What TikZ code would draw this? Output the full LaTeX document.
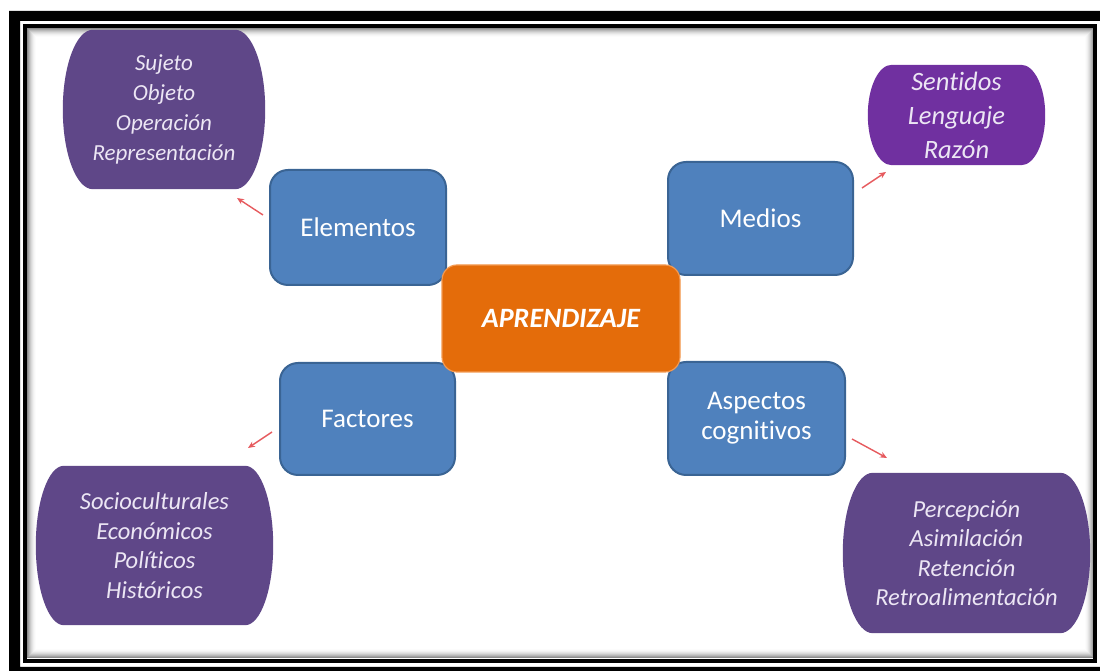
\documentclass[tikz,border=0pt]{standalone}
\usepackage{fontspec}
\setmainfont[Ligatures=NoCommon]{Carlito}
\usetikzlibrary{arrows.meta,calc,backgrounds}

\definecolor{boxblue}{HTML}{4F81BD}
\definecolor{boxedge}{HTML}{3A6494}
\definecolor{coreorange}{HTML}{E46C0A}
\definecolor{coreedge}{HTML}{F39A52}
\definecolor{plum}{HTML}{5F4788}
\definecolor{brightviolet}{HTML}{7030A0}
\definecolor{lilac}{HTML}{ECE6F4}
\definecolor{arrowred}{HTML}{E65A5E}

% Filled outline with elliptical corners around a node (#1 node, #2 x radius, #3 y radius, #4 colour)
\newcommand\cloudfill[4]{%
  \fill[#4] ([xshift=#2]#1.north west) -- ([xshift=-#2]#1.north east)
    arc[start angle=90,end angle=0,x radius=#2,y radius=#3]
    -- ([yshift=#3]#1.south east)
    arc[start angle=0,end angle=-90,x radius=#2,y radius=#3]
    -- ([xshift=#2]#1.south west)
    arc[start angle=270,end angle=180,x radius=#2,y radius=#3]
    -- ([yshift=-#3]#1.north west)
    arc[start angle=180,end angle=90,x radius=#2,y radius=#3] -- cycle;}

\tikzset{
  topic/.style={draw=boxedge, line width=2pt, fill=boxblue, rounded corners=18pt,
    text=white, align=center, inner sep=0pt, font=\fontsize{27}{30}\selectfont},
  core/.style={draw=coreedge, line width=1.2pt, fill=coreorange, rounded corners=15pt,
    text=white, align=center, inner sep=0pt, font=\fontsize{28}{30}\selectfont\bfseries\itshape},
  detail/.style={text=lilac, align=center, inner sep=0pt,
    font=\fontsize{24.5}{29.5}\selectfont\itshape},
  link/.style={draw=arrowred, line width=1.4pt, -{Stealth[length=7pt,width=6pt]}}
}

\begin{document}
\begin{tikzpicture}[x=1pt,y=1pt]
\useasboundingbox (0,0) rectangle (1100,671);

% outer detail clouds
\node[detail, font=\fontsize{23}{30}\selectfont\itshape, minimum width=202pt, minimum height=159pt]
  (elemd) at (164,561.5) {Sujeto\\Objeto\\Operación\\Representación};
\node[detail, font=\fontsize{26.5}{34}\selectfont\itshape, minimum width=177pt, minimum height=100pt]
  (mediod) at (956.5,556) {Sentidos\\Lenguaje\\Razón};
\node[detail, minimum width=237pt, minimum height=159pt]
  (factd) at (154.5,125.5) {Socioculturales\\Económicos\\Políticos\\Históricos};
\node[detail, minimum width=247pt, minimum height=160pt]
  (aspd) at (966.5,118) {Percepción\\Asimilación\\Retención\\Retroalimentación};

\begin{scope}[on background layer]
  % page frame: heavy outer border, thin inner border, soft inner shadow
  \fill[black, even odd rule] (9,660) rectangle (1110,-10) (20,650) rectangle (1103,4);
  \foreach \i/\c in {0.5/45,1.5/36,2.5/28,3.5/21,4.5/15,5.5/10,6.5/6,7.5/3,8.5/1}
    \draw[line width=1pt, black!\c] (27+\i,13+\i) rectangle (1094-\i,643-\i);
  \draw[black, line width=4pt] (25,645) rectangle (1095,10);
  % cloud bodies
  \cloudfill{elemd}{30pt}{79.5pt}{plum}
  \cloudfill{mediod}{24pt}{50pt}{brightviolet}
  \cloudfill{factd}{28pt}{79.5pt}{plum}
  \cloudfill{aspd}{30pt}{80pt}{plum}
\end{scope}

% blue topic boxes
\node[topic, minimum width=176pt, minimum height=115pt] (elem) at (358,443.5) {Elementos};
\node[topic, minimum width=185pt, minimum height=113pt] (medio) at (760.5,452.5) {Medios};
\node[topic, minimum width=175pt, minimum height=112pt] (fact) at (367.5,252) {Factores};
\node[topic, minimum width=177pt, minimum height=113pt] (asp) at (756.5,252.5) {Aspectos\\cognitivos};

% central concept
\node[core, minimum width=238pt, minimum height=107pt] (core) at (561,352.5) {APRENDIZAJE};

% small pointers from the boxes towards their details
\coordinate (e1) at (263,456); \coordinate (e2) at (237,473);
\coordinate (m1) at (862,483); \coordinate (m2) at (886,499);
\coordinate (f1) at (272,239); \coordinate (f2) at (248,223);
\coordinate (a1) at (852,232); \coordinate (a2) at (887,213);
\draw[link] (e1) -- (e2);
\draw[link] (m1) -- (m2);
\draw[link] (f1) -- (f2);
\draw[link] (a1) -- (a2);
\end{tikzpicture}
\end{document}
